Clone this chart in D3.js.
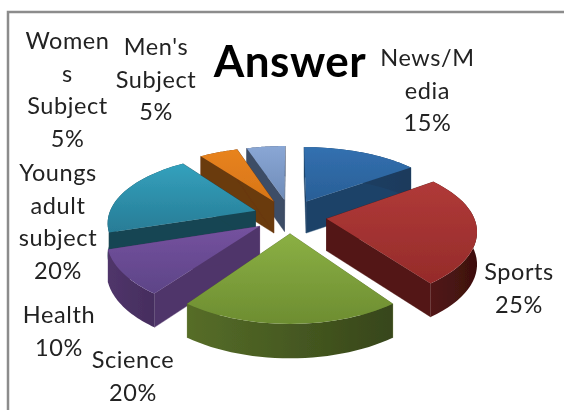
<!DOCTYPE html>
<html><head><meta charset="utf-8">
<script src="https://cdn.jsdelivr.net/npm/d3@7"></script>
<style>html,body{margin:0;padding:0;background:#fff;overflow:hidden}svg{display:block}</style>
</head><body><script>
const chartTitle = "Answer";
const categories = ["News/Media","Sports","Science","Health","Youngs adult subject","Womens Subject","Men's Subject"];
const values = [15,25,20,10,20,5,5];
const labelLines = [["News/M","edia","15%"],["Sports","25%"],["Science","20%"],["Health","10%"],["Youngs","adult","subject","20%"],["Women","s","Subject","5%"],["Men's","Subject","5%"]];
const labelX = [427.5,519,133,59,58,67.5,156];
const labelY = [66,280,368,323,181,49,55];
const topLight = ["#3270b0","#b03a38","#8bb044","#75529f","#33a1bd","#e8831f","#8aa7d5"];
const topDark = ["#2a5f96","#952b2a","#6d8d31","#5d4487","#287c96","#d87516","#6f8cb8"];
const wallMain = ["#1d4268","#521715","#566d28","#50356a","#164552","#6a3a10","#3e4d66"];
const wallDark = ["#1a3a5c","#3d100f","#37461a","#452d5e","#164552","#6a3a10","#3e4d66"];

const W=564,H=410, cx=290, cy=216;
const sx=d3.scaleLinear().domain([-1,1]).range([cx-147,cx+147]);
const sy=d3.scaleLinear().domain([-1,1]).range([cy-68,cy+68]);
const perspX=.15, perspY=.17, explode=.25, depth=32;
const proj=(X,Y,d=0)=>{
  const wx=1/(1-perspX*Y), wy=1/(1-perspY*Y);
  return [cx+(sx(X)-cx)*wx, cy+(sy(Y)-cy)*wy+d*Math.pow(wy,.3)];
};

const svg=d3.select("body").append("svg").attr("width",W).attr("height",H);
const defs=svg.append("defs");
defs.append("filter").attr("id","soft").append("feGaussianBlur").attr("stdDeviation",0.45);
defs.append("filter").attr("id","softText").append("feGaussianBlur").attr("stdDeviation",0.3);
const line=d3.line();
svg.append("path").attr("d",line([[8,410],[8,12],[564,12]])).attr("fill","none").attr("stroke","#8c8c8c").attr("stroke-width",2.5);

const arcs=d3.pie().value(d=>d).sort(null)(values);
const g=svg.append("g").attr("filter","url(#soft)");
const slices=arcs.map((a,i)=>{
  const mid=(a.startAngle+a.endAngle)/2;
  const ox=explode*Math.sin(mid), oy=-explode*Math.cos(mid);
  const steps=d3.range(0,31).map(k=>a.startAngle+(a.endAngle-a.startAngle)*k/30);
  const rim=steps.map(t=>[ox+Math.sin(t),oy-Math.cos(t)]);
  return {i,ox,oy,rim,order:oy};
}).sort((p,q)=>p.order-q.order);

slices.forEach(s=>{
  const {i,ox,oy,rim}=s;
  const P=d=>p=>proj(p[0],p[1],d);
  const topPts=[[ox,oy],...rim].map(P(0));
  const grad=defs.append("linearGradient").attr("id","top"+i).attr("gradientUnits","userSpaceOnUse")
    .attr("x1",0).attr("x2",0).attr("y1",d3.min(topPts,p=>p[1])).attr("y2",d3.max(topPts,p=>p[1]));
  grad.append("stop").attr("offset",0).attr("stop-color",topLight[i]);
  grad.append("stop").attr("offset",1).attr("stop-color",topDark[i]);
  const rimTop=rim.map(P(0)), rimBot=rim.map(P(depth));
  const wg=defs.append("linearGradient").attr("id","wall"+i).attr("gradientUnits","userSpaceOnUse")
    .attr("x1",d3.min(rimTop,p=>p[0])).attr("x2",d3.max(rimTop,p=>p[0])).attr("y1",0).attr("y2",0);
  wg.append("stop").attr("offset",0).attr("stop-color",wallMain[i]);
  wg.append("stop").attr("offset",1).attr("stop-color",wallDark[i]);
  const apexT=proj(ox,oy,0), apexB=proj(ox,oy,depth);
  const ends=[rim[0],rim[rim.length-1]];
  ends.forEach(e=>{
    g.append("path").attr("d",line([apexT,P(0)(e),P(depth)(e),apexB])+"Z").attr("fill",wallMain[i]).attr("stroke",wallMain[i]).attr("stroke-width",.4);
  });
  g.append("path").attr("d",line([...rimTop,...rimBot.reverse()])+"Z").attr("fill",`url(#wall${i})`);
  g.append("path").attr("d",line(topPts)+"Z").attr("fill",`url(#top${i})`);
});

const font="Lato, Carlito, sans-serif";
const textLayer=svg.append("g").attr("filter","url(#softText)");
textLayer.append("text").text(chartTitle).attr("x",290).attr("y",77).attr("text-anchor","middle")
  .attr("font-family",font).attr("font-weight",700).attr("font-size",44).attr("letter-spacing",.5).attr("fill","#000");
categories.forEach((c,i)=>{
  const t=textLayer.append("text").attr("text-anchor","middle").attr("font-family",font).attr("font-size",23.5).attr("letter-spacing",.6).attr("fill","#222");
  labelLines[i].forEach((l,k)=>t.append("tspan").attr("x",labelX[i]).attr("y",labelY[i]+k*32.7).text(l));
});
</script></body></html>
